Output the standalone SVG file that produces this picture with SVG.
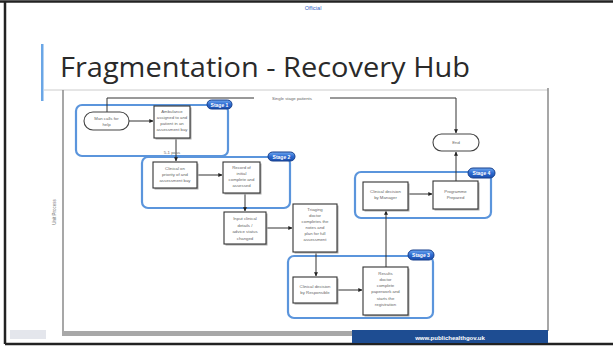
<svg xmlns="http://www.w3.org/2000/svg" width="613" height="347" viewBox="0 0 613 347">
  <defs>
    <marker id="arr" viewBox="0 0 6 6" refX="5.5" refY="3" markerWidth="4" markerHeight="4" orient="auto">
      <path d="M0,0 L6,3 L0,6 z" fill="#222"/>
    </marker>
    <linearGradient id="pillGrad" x1="0" y1="0" x2="0" y2="1">
      <stop offset="0" stop-color="#6fa8f0"/>
      <stop offset="0.5" stop-color="#2c6ad0"/>
      <stop offset="1" stop-color="#1b4fae"/>
    </linearGradient>
  </defs>
  <style>
    .stage { fill: #fff; stroke: #5b95dc; stroke-width: 2.2; }
    .pill { fill: url(#pillGrad); stroke: #173f8c; stroke-width: 1; }
    .pilltxt { font-family: "Liberation Sans", Arial, sans-serif; font-size: 5px; font-weight: bold; fill: #fff; text-anchor: middle; }
    .box { fill: #fff; stroke: #333; stroke-width: 1.1; }
    .shadow { fill: #aaa; }
    .term { fill: #fff; stroke: #444; stroke-width: 1.1; }
    .t { font-family: "Liberation Sans", Arial, sans-serif; font-size: 4.3px; fill: #666; text-anchor: middle; }
    .conn { fill: none; stroke: #333; stroke-width: 1; }
  </style>

  <!-- slide background and photo border -->
  <rect x="0" y="0" width="613" height="347" fill="#fff"/>
  <path d="M0,1.5 H613" stroke="#222" stroke-width="2.5"/>
  <path d="M5,1 V344" stroke="#222" stroke-width="2.5"/>
  <path d="M5,344 H613" stroke="#222" stroke-width="2.5"/>

  <!-- header -->
  <g id="header">
    <text x="313" y="10" font-family="Liberation Sans, Arial, sans-serif" font-size="5.5" fill="#2f5fc4" text-anchor="middle">Official</text>
    <rect x="41" y="44" width="2.5" height="57" fill="#6aa6e6"/>
    <text x="60" y="77" font-family="Open Sans, Liberation Sans, sans-serif" font-size="27" fill="#2a2a2a" textLength="410" lengthAdjust="spacingAndGlyphs">Fragmentation - Recovery Hub</text>
    <path d="M44,90 H548" stroke="#ccc" stroke-width="1"/>
  </g>

  <!-- embedded process chart frame -->
  <g id="frame">
    <path d="M63,90 V333" stroke="#8a8a8a" stroke-width="1.5"/>
    <path d="M548,88 V331" stroke="#8a8a8a" stroke-width="1.5"/>
    <text transform="translate(56,212) rotate(-90)" font-family="Liberation Sans, Arial, sans-serif" font-size="4.5" fill="#777" text-anchor="middle">Unit Process</text>
  </g>

  <!-- footer -->
  <g id="footer">
    <rect x="10" y="330" width="36" height="9" fill="#e4e6ec"/>
    <rect x="62" y="331" width="290" height="5" fill="#a8a8a8"/>
    <rect x="352" y="330" width="196" height="13" fill="#1e4d92"/>
    <text x="450" y="339.5" font-family="Liberation Sans, Arial, sans-serif" font-size="6" font-weight="bold" fill="#fff" text-anchor="middle">www.publichealthgov.uk</text>
  </g>

  <!-- stage groupings -->
  <g id="stage1">
    <rect class="stage" x="76" y="105" width="152" height="51" rx="6"/>
    <rect class="pill" x="207" y="100" width="25" height="9" rx="4.5"/>
    <text class="pilltxt" x="219.5" y="106.7">Stage 1</text>
  </g>
  <g id="stage2">
    <rect class="stage" x="142" y="157" width="148" height="51" rx="6"/>
    <rect class="pill" x="268" y="152" width="27" height="9" rx="4.5"/>
    <text class="pilltxt" x="281.5" y="158.7">Stage 2</text>
  </g>
  <g id="stage4">
    <rect class="stage" x="355" y="172" width="136" height="46" rx="6"/>
    <rect class="pill" x="468" y="168" width="27" height="10" rx="5"/>
    <text class="pilltxt" x="481.5" y="175.2">Stage 4</text>
  </g>
  <g id="stage3">
    <rect class="stage" x="288" y="256" width="145" height="62" rx="6"/>
    <rect class="pill" x="408" y="250" width="26" height="10" rx="5"/>
    <text class="pilltxt" x="421" y="257.2">Stage 3</text>
  </g>

  <!-- connectors -->
  <g id="connectors">
    <path class="conn" d="M107,112 V98 H456 V133" marker-end="url(#arr)"/>
    <rect x="254" y="95" width="76" height="6" fill="#fff"/>
    <text class="t" x="292" y="99.5">Single stage patients</text>
    <path class="conn" d="M129,121 H153" marker-end="url(#arr)"/>
    <path class="conn" d="M176,138 V161" marker-end="url(#arr)"/>
    <text class="t" x="172" y="153.5">5-1 pass</text>
    <path class="conn" d="M198,175 H222" marker-end="url(#arr)"/>
    <path class="conn" d="M245,193 V211" marker-end="url(#arr)"/>
    <path class="conn" d="M267,228 H292" marker-end="url(#arr)"/>
    <path class="conn" d="M316,252 V276" marker-end="url(#arr)"/>
    <path class="conn" d="M337,290 H362" marker-end="url(#arr)"/>
    <path class="conn" d="M386,267 V211" marker-end="url(#arr)"/>
    <path class="conn" d="M408,194 H432" marker-end="url(#arr)"/>
    <path class="conn" d="M456,181 V152" marker-end="url(#arr)"/>
  </g>

  <!-- start / end terminals -->
  <g id="start">
    <rect class="term" x="84" y="112" width="45" height="18" rx="9"/>
    <text class="t" x="106.5" y="120">Man calls for</text>
    <text class="t" x="106.5" y="125.5">help</text>
  </g>
  <g id="end">
    <rect class="term" x="433" y="134" width="46" height="17" rx="8.5"/>
    <text class="t" x="456" y="144">End</text>
  </g>

  <!-- process steps -->
  <g id="step1">
    <rect class="shadow" x="155.5" y="107.5" width="36" height="32"/>
    <rect class="box" x="154" y="106" width="36" height="32"/>
    <text class="t" x="172" y="113">Ambulance</text>
    <text class="t" x="172" y="119">assigned to and</text>
    <text class="t" x="172" y="125">patient in an</text>
    <text class="t" x="172" y="131">assessment bay</text>
  </g>
  <g id="step2">
    <rect class="shadow" x="154.5" y="163.5" width="44" height="26"/>
    <rect class="box" x="153" y="162" width="44" height="26"/>
    <text class="t" x="175" y="170">Clinical on</text>
    <text class="t" x="175" y="176">priority of and</text>
    <text class="t" x="175" y="182">assessment bay</text>
  </g>
  <g id="step3">
    <rect class="shadow" x="224.5" y="163.5" width="37" height="31"/>
    <rect class="box" x="223" y="162" width="37" height="31"/>
    <text class="t" x="241.5" y="169">Record of</text>
    <text class="t" x="241.5" y="175">initial</text>
    <text class="t" x="241.5" y="181">complete and</text>
    <text class="t" x="241.5" y="187">assessed</text>
  </g>
  <g id="step4">
    <rect class="shadow" x="225.5" y="213.5" width="42" height="32"/>
    <rect class="box" x="224" y="212" width="42" height="32"/>
    <text class="t" x="245" y="220">Input clinical</text>
    <text class="t" x="245" y="227">details /</text>
    <text class="t" x="245" y="233">advice status</text>
    <text class="t" x="245" y="240">changed</text>
  </g>
  <g id="step5">
    <rect class="shadow" x="294.5" y="205.5" width="44" height="48"/>
    <rect class="box" x="293" y="204" width="44" height="48"/>
    <text class="t" x="315" y="211">Triaging</text>
    <text class="t" x="315" y="217">doctor</text>
    <text class="t" x="315" y="223">completes the</text>
    <text class="t" x="315" y="229">notes and</text>
    <text class="t" x="315" y="235">plan for full</text>
    <text class="t" x="315" y="241">assessment</text>
  </g>
  <g id="step6">
    <rect class="shadow" x="294.5" y="278.5" width="44" height="26"/>
    <rect class="box" x="293" y="277" width="44" height="26"/>
    <text class="t" x="315" y="288">Clinical decision</text>
    <text class="t" x="315" y="294">by Responsible</text>
  </g>
  <g id="step7">
    <rect class="shadow" x="364.5" y="268.5" width="45" height="48"/>
    <rect class="box" x="363" y="267" width="45" height="48"/>
    <text class="t" x="385.5" y="275">Results</text>
    <text class="t" x="385.5" y="281">doctor</text>
    <text class="t" x="385.5" y="287">complete</text>
    <text class="t" x="385.5" y="293">paperwork and</text>
    <text class="t" x="385.5" y="300">starts the</text>
    <text class="t" x="385.5" y="306">registration</text>
  </g>
  <g id="step8">
    <rect class="shadow" x="364.5" y="183.5" width="45" height="28"/>
    <rect class="box" x="363" y="182" width="45" height="28"/>
    <text class="t" x="385.5" y="193">Clinical decision</text>
    <text class="t" x="385.5" y="199">by Manager</text>
  </g>
  <g id="step9">
    <rect class="shadow" x="434.5" y="182.5" width="45" height="28"/>
    <rect class="box" x="433" y="181" width="45" height="28"/>
    <text class="t" x="455.5" y="193">Programme</text>
    <text class="t" x="455.5" y="199">Prepared</text>
  </g>
</svg>
